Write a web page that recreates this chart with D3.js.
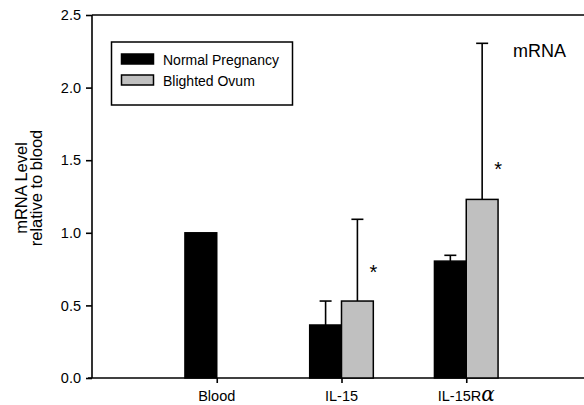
<!DOCTYPE html>
<html>
<head>
<meta charset="utf-8">
<script src="https://cdn.jsdelivr.net/npm/d3@7"></script>
<style>
  body { margin: 0; background: #fff; }
  svg { display: block; font-family: "Liberation Sans", Arial, sans-serif; }
</style>
</head>
<body>
<svg id="chart" width="584" height="405"></svg>
<script>
// ---- data ----
const categories = ["Blood", "IL-15", "IL-15R"];
const seriesNames = ["Normal Pregnancy", "Blighted Ovum"];
const normalValues = [1.0, 0.365, 0.805];
const normalErrTop = [null, 0.53, 0.845];
const blightedValues = [null, 0.53, 1.23];
const blightedErrTop = [null, 1.093, 2.305];
const yTicks = [0.0, 0.5, 1.0, 1.5, 2.0, 2.5];
const asterisks = [{cat: 1, y: 0.76}, {cat: 2, y: 1.465}];

// ---- layout ----
const svg = d3.select("#chart");
const x = d3.scaleLinear().domain([0, 4]).range([92, 591]);
const y = d3.scaleLinear().domain([0, 2.5]).range([378, 15]);
const barW = 0.255;
const ink = "#000";

// frame top line
svg.append("line").attr("x1", x(0)).attr("x2", x(4)).attr("y1", y(2.5)).attr("y2", y(2.5))
  .attr("stroke", ink).attr("stroke-width", 1.6);

// y axis
const yAxis = svg.append("g").attr("transform", `translate(${x(0)},0)`)
  .call(d3.axisLeft(y).tickValues(yTicks).tickFormat(d3.format(".1f")).tickSize(6).tickPadding(5));
yAxis.select(".domain").attr("stroke-width", 1.6).attr("d", `M0,${y(2.5)}V${y(0)}`);
yAxis.selectAll(".tick line").attr("stroke-width", 1.6);
yAxis.selectAll("text").attr("font-size", 14.5).attr("fill", ink).attr("font-family", "Liberation Sans, Arial, sans-serif");

// x axis
const xAxis = svg.append("g").attr("transform", `translate(0,${y(0)})`)
  .call(d3.axisBottom(x).tickValues([1, 2, 3]).tickFormat(d => "").tickSize(5));
xAxis.select(".domain").attr("stroke-width", 1.6).attr("d", `M${x(0) - 4},0H${x(4)}`);
xAxis.selectAll(".tick line").attr("stroke-width", 1.6);

// x labels
const xl = svg.append("g");
categories.forEach((c, i) => {
  const t = xl.append("text").attr("x", x(i + 1)).attr("y", 401).attr("text-anchor", "middle")
    .attr("font-size", 14.5).attr("fill", ink);
  t.append("tspan").text(c);
  if (i === 2) t.append("tspan").text("α").attr("font-size", 20).attr("font-family", "DejaVu Serif, serif").attr("font-style", "italic");
});

// bars
const bars = svg.append("g");
categories.forEach((c, i) => {
  const cx = i + 1;
  if (normalValues[i] != null) {
    if (normalErrTop[i] != null) {
      const ex = x(cx - barW / 2);
      bars.append("line").attr("x1", ex).attr("x2", ex).attr("y1", y(normalValues[i])).attr("y2", y(normalErrTop[i]))
        .attr("stroke", ink).attr("stroke-width", 1.6);
      bars.append("line").attr("x1", ex - 6).attr("x2", ex + 6).attr("y1", y(normalErrTop[i])).attr("y2", y(normalErrTop[i]))
        .attr("stroke", ink).attr("stroke-width", 1.6);
    }
    bars.append("rect").attr("x", x(cx - barW)).attr("width", x(cx) - x(cx - barW))
      .attr("y", y(normalValues[i])).attr("height", y(0) - y(normalValues[i]))
      .attr("fill", "#000").attr("stroke", ink).attr("stroke-width", 1.5);
  }
  if (blightedValues[i] != null) {
    if (blightedErrTop[i] != null) {
      const ex = x(cx + barW / 2);
      bars.append("line").attr("x1", ex).attr("x2", ex).attr("y1", y(blightedValues[i])).attr("y2", y(blightedErrTop[i]))
        .attr("stroke", ink).attr("stroke-width", 1.6);
      bars.append("line").attr("x1", ex - 6).attr("x2", ex + 6).attr("y1", y(blightedErrTop[i])).attr("y2", y(blightedErrTop[i]))
        .attr("stroke", ink).attr("stroke-width", 1.6);
    }
    bars.append("rect").attr("x", x(cx)).attr("width", x(cx + barW) - x(cx))
      .attr("y", y(blightedValues[i])).attr("height", y(0) - y(blightedValues[i]))
      .attr("fill", "#c0c0c0").attr("stroke", ink).attr("stroke-width", 1.5);
  }
});

// asterisks
asterisks.forEach(a => {
  svg.append("text").attr("x", x(a.cat + 1 + barW)).attr("y", y(a.y) + 11).attr("text-anchor", "middle")
    .attr("font-size", 20).attr("fill", ink).text("*");
});

// legend
const lg = svg.append("g");
lg.append("rect").attr("x", 111.5).attr("y", 42).attr("width", 181).attr("height", 63)
  .attr("fill", "#fff").attr("stroke", ink).attr("stroke-width", 1.5);
const colors = ["#000", "#c0c0c0"];
seriesNames.forEach((s, i) => {
  lg.append("rect").attr("x", 121.5).attr("y", 54 + i * 21).attr("width", 32).attr("height", 10)
    .attr("fill", colors[i]).attr("stroke", ink).attr("stroke-width", 1.5);
  lg.append("text").attr("x", 163).attr("y", 64.5 + i * 21).attr("font-size", 14).attr("fill", ink).text(s);
});

// panel label
svg.append("text").attr("x", 513).attr("y", 57).attr("font-size", 18).attr("fill", ink).text("mRNA");

// y title
const yt = svg.append("text").attr("transform", `translate(27,188) rotate(-90)`).attr("text-anchor", "middle")
  .attr("font-size", 16.5).attr("fill", ink);
yt.append("tspan").attr("x", 0).attr("dy", 0).text("mRNA Level");
yt.append("tspan").attr("x", 0).attr("dy", 15).text("relative to blood");
</script>
</body>
</html>
